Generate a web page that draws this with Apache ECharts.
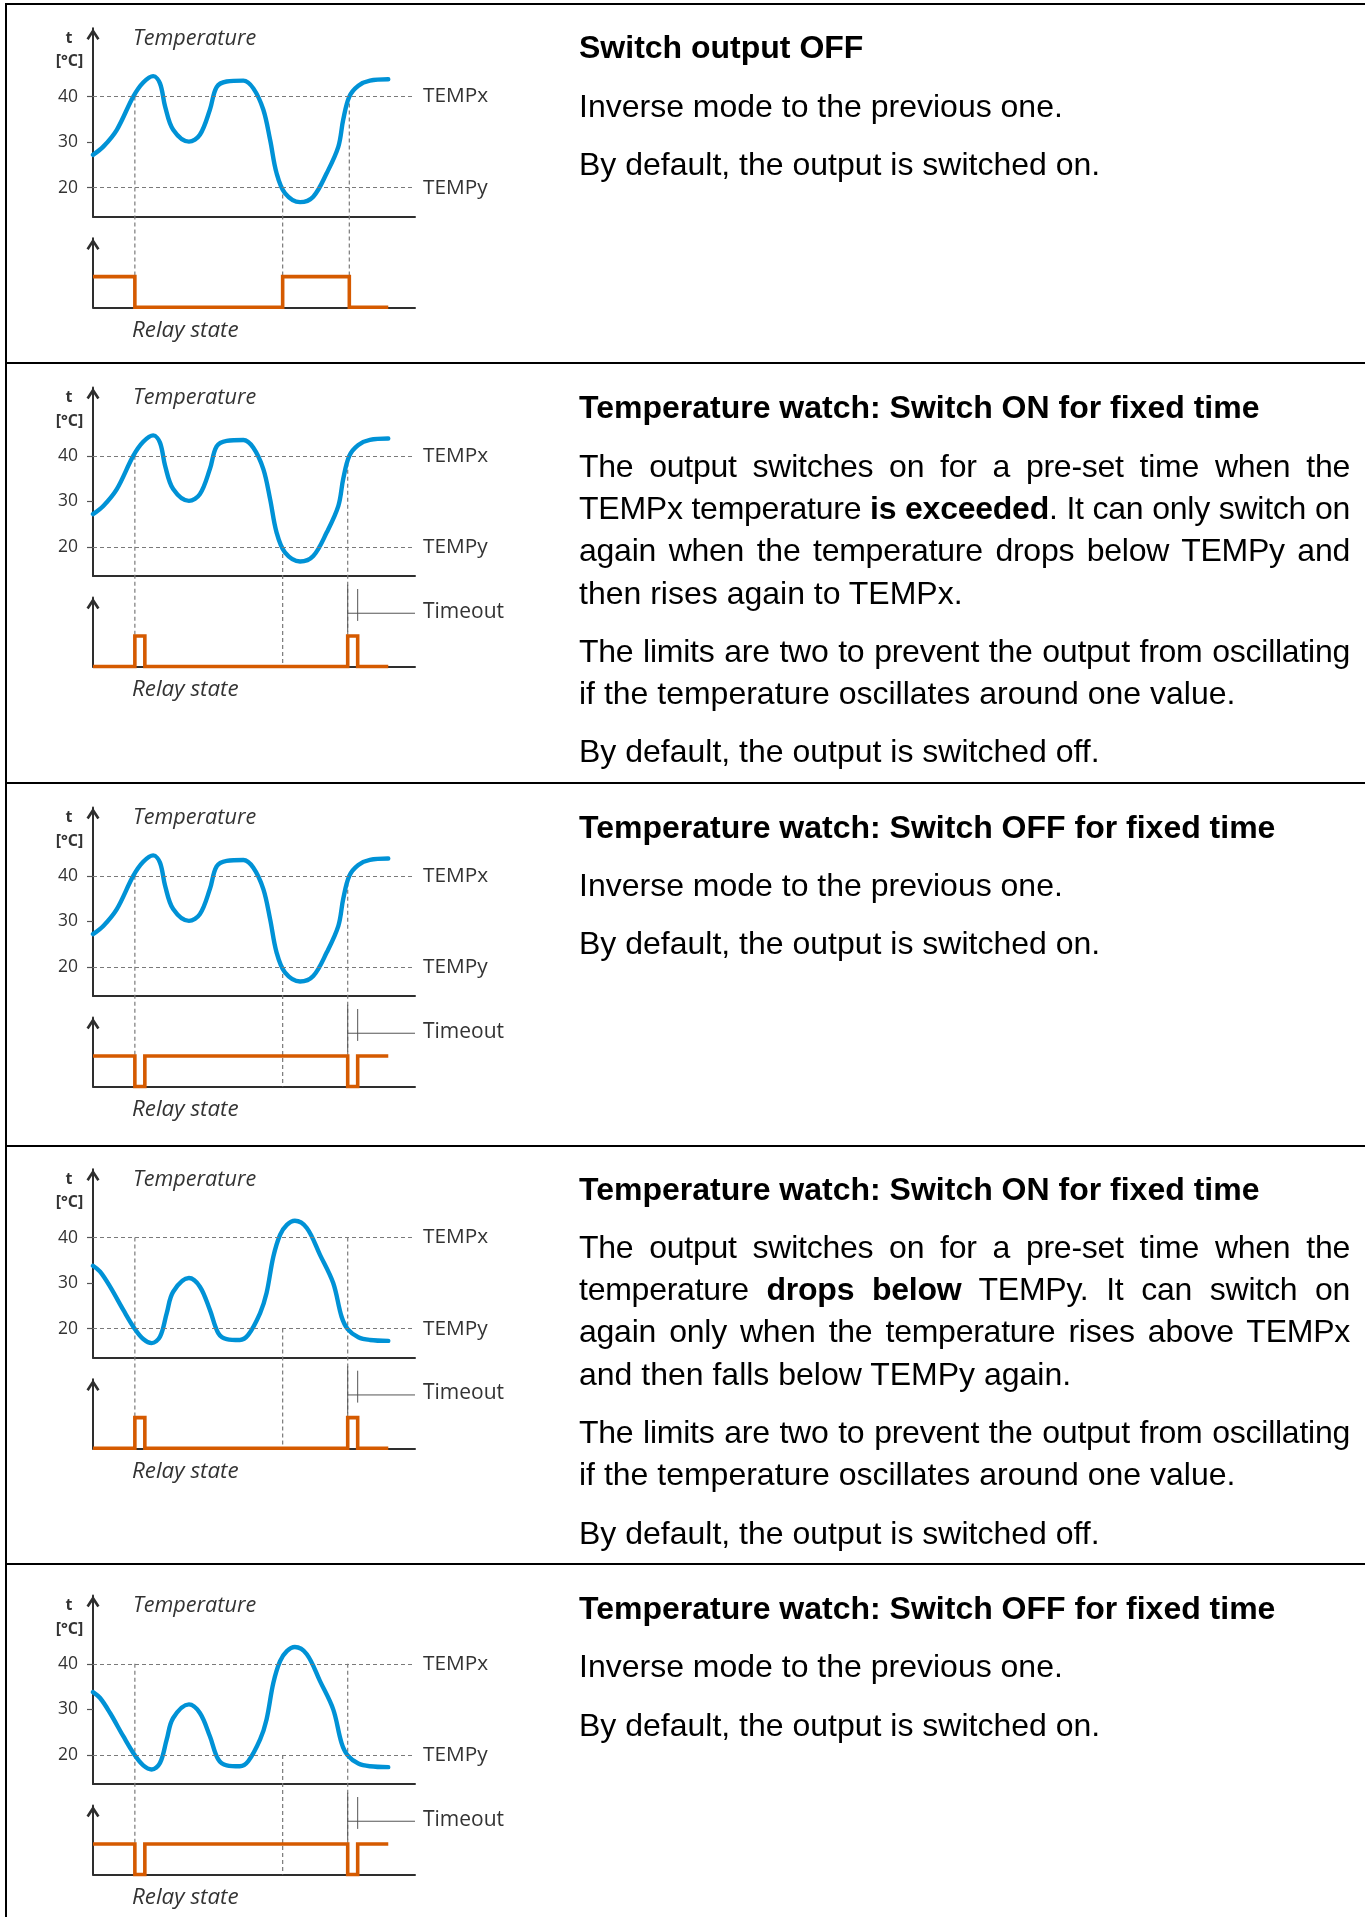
<!DOCTYPE html>
<html>
<head>
<meta charset="utf-8">
<title>Temperature watch modes</title>
<script src="https://cdn.jsdelivr.net/npm/echarts@6/dist/echarts.min.js"></script>
<style>
    html, body { margin: 0; padding: 0; background: #fff; }
    #page { position: relative; width: 1365px; height: 1917px; overflow: hidden; background: #fff; }
    #charts { position: absolute; left: 0; top: 0; width: 1365px; height: 1917px; }
    .rule { position: absolute; left: 5px; right: 0; height: 2px; background: #000; }
    .vrule { position: absolute; left: 5px; top: 3px; bottom: 0; width: 2px; background: #000; }
    .text {
        position: absolute; left: 579px; width: 771px;
        font-family: "Liberation Sans", Arial, sans-serif;
        font-size: 32px; line-height: 42.3px; color: #000;
    }
    .text h3 { margin: 0; font-size: inherit; font-weight: bold; }
    .text p { margin: 16px 0 0 0; }
    /* justified lines: squeeze letters a little, the word gaps take up the rest */
    .text .j { display: block; text-align: justify; text-align-last: justify; white-space: nowrap; letter-spacing: -0.25px; }
    .text .l { display: block; }
</style>
</head>
<body>
<div id="page">
    <div id="charts"></div>

    <div class="vrule"></div>
    <div class="rule" style="top:3px"></div>
    <div class="rule" style="top:362px"></div>
    <div class="rule" style="top:782px"></div>
    <div class="rule" style="top:1145px"></div>
    <div class="rule" style="top:1563px"></div>

    <div class="text" style="top:26.4px">
        <h3>Switch output OFF</h3>
        <p>Inverse mode to the previous one.</p>
        <p>By default, the output is switched on.</p>
    </div>

    <div class="text" style="top:386.4px">
        <h3>Temperature watch: Switch ON for fixed time</h3>
        <p>
            <span class="j">The output switches on for a pre-set time when the</span>
            <span class="j">TEMPx temperature <b>is exceeded</b>. It can only switch on</span>
            <span class="j">again when the temperature drops below TEMPy and</span>
            <span class="l">then rises again to TEMPx.</span>
        </p>
        <p>
            <span class="j">The limits are two to prevent the output from oscillating</span>
            <span class="l">if the temperature oscillates around one value.</span>
        </p>
        <p>By default, the output is switched off.</p>
    </div>

    <div class="text" style="top:805.5px">
        <h3>Temperature watch: Switch OFF for fixed time</h3>
        <p>Inverse mode to the previous one.</p>
        <p>By default, the output is switched on.</p>
    </div>

    <div class="text" style="top:1167.5px">
        <h3>Temperature watch: Switch ON for fixed time</h3>
        <p>
            <span class="j">The output switches on for a pre-set time when the</span>
            <span class="j">temperature <b>drops below</b> TEMPy. It can switch on</span>
            <span class="j">again only when the temperature rises above TEMPx</span>
            <span class="l">and then falls below TEMPy again.</span>
        </p>
        <p>
            <span class="j">The limits are two to prevent the output from oscillating</span>
            <span class="l">if the temperature oscillates around one value.</span>
        </p>
        <p>By default, the output is switched off.</p>
    </div>

    <div class="text" style="top:1587px">
        <h3>Temperature watch: Switch OFF for fixed time</h3>
        <p>Inverse mode to the previous one.</p>
        <p>By default, the output is switched on.</p>
    </div>
</div>

<script>
    // temperature curve of the first three diagrams (time in % of the axis, °C)
    const timeA = [0, 3.2, 7.4, 12.5, 15.6, 18.7, 20.8, 22.4, 24.9, 29.8, 33.2, 36.3, 38.4, 41.5, 46.7,
        49.8, 52.9, 55, 57, 59.6, 64.3, 68.4, 72.6, 76.2, 77.7, 79.6, 82.4, 86, 91.7]
    const tempA = [27.2, 29.0, 32.7, 40, 43.1, 44.5, 42.9, 37.8, 32.7, 30.1, 31.6, 37.1, 42.1, 43.3, 43.5,
        41.8, 37.1, 30.5, 23.2, 18.8, 16.8, 18, 23.2, 29, 34.9, 40, 42.4, 43.5, 43.8]

    // temperature curve of the last two diagrams
    const timeB = [0, 2.2, 5.3, 9.4, 13.0, 15.6, 18.2, 20.8, 22.9, 24.9, 29.8, 33.2, 36.3, 38.9, 41.5,
        45.6, 48.2, 51.9, 53.9, 56, 58.1, 60.2, 62.7, 66.4, 70.5, 74.6, 77.2, 79.1, 82.4, 86, 91.7]
    const tempB = [33.8, 32.5, 29.2, 24.1, 19.9, 17.7, 16.8, 18.2, 23.4, 28.1, 31.1, 29.2, 24.1, 19, 17.7,
        17.5, 18.6, 23.4, 27.8, 35.8, 40.6, 42.8, 43.7, 42.1, 36.2, 30, 22.6, 19.9, 18.1, 17.5, 17.3]

    // relay state (1 = closed)
    const relayT1 = [0, 13, 13, 58.9, 58.9, 79.6, 79.6, 91.7]
    const relayS1 = [1, 1, 0, 0, 1, 1, 0, 0]
    const pulseT = [0, 13, 13, 16.1, 16.1, 79.1, 79.1, 82.2, 82.2, 91.7]
    const pulseOn = [0, 0, 1, 1, 0, 0, 1, 1, 0, 0]
    const pulseOff = [1, 1, 0, 0, 1, 1, 0, 0, 1, 1]

    // limits and switching moments
    const tempX = 40
    const tempY = 20
    const tempTicks = [20, 30, 40]
    const switchT1 = [13, 58.9, 79.6]
    const switchT2 = [13, 58.9, 79.1]
    const switchLevel = [40, 20, 40]
    const timeoutSpan = [79.1, 82.2]

    const BLUE = '#0092d6'
    const ORANGE = '#d55a00'
    const AXIS = '#2e2e2e'
    const DASH = '#7a7a7a'
    const FONT = '"Open Sans", "DejaVu Sans", sans-serif'
    const ARROW = 'path://M6,0 L12,9.2 L10,10.6 L6,4.4 L2,10.6 L0,9.2 Z'

    const panels = [
        {top: 28.3, time: timeA, temp: tempA, relayT: relayT1, relayS: relayS1, switchT: switchT1, timeout: false},
        {top: 387.6, time: timeA, temp: tempA, relayT: pulseT, relayS: pulseOn, switchT: switchT2, timeout: true},
        {top: 807.6, time: timeA, temp: tempA, relayT: pulseT, relayS: pulseOff, switchT: switchT2, timeout: true},
        {top: 1169.3, time: timeB, temp: tempB, relayT: pulseT, relayS: pulseOn, switchT: switchT2, timeout: true},
        {top: 1595.6, time: timeB, temp: tempB, relayT: pulseT, relayS: pulseOff, switchT: switchT2, timeout: true},
    ]

    const zip = (xs, ys) => xs.map((x, k) => [x, ys[k]])

    function xAxisDef(gridIndex) {
        return {
            type: 'value', gridIndex: gridIndex, min: 0, max: 100,
            axisLine: {show: true, onZero: false, lineStyle: {color: AXIS, width: 2}},
            axisTick: {show: false}, axisLabel: {show: false}, splitLine: {show: false}
        }
    }

    function yAxisDef(gridIndex, min, max, withTicks) {
        return {
            type: 'value', gridIndex: gridIndex, min: min, max: max,
            axisLine: {
                show: true, onZero: false,
                symbol: ['none', ARROW], symbolSize: [13, 12], symbolOffset: [0, -6],
                lineStyle: {color: AXIS, width: 2}
            },
            axisTick: withTicks
                ? {show: true, customValues: tempTicks, length: 6, lineStyle: {color: '#555', width: 1.2}}
                : {show: false},
            axisLabel: withTicks
                ? {show: true, customValues: tempTicks, margin: 15, color: '#333', fontSize: 17.5, fontFamily: FONT}
                : {show: false},
            splitLine: {show: false}
        }
    }

    const option = {
        animation: false,
        grid: [], xAxis: [], yAxis: [], series: []
    }

    panels.forEach((p, i) => {
        const g = 2 * i
        option.grid.push({left: 93, top: p.top, width: 322, height: 188.4})
        option.grid.push({left: 93, top: p.top + 210, width: 322, height: 69})
        option.xAxis.push(xAxisDef(g), xAxisDef(g + 1))
        option.yAxis.push(yAxisDef(g, 13.6, 55, true), yAxisDef(g + 1, 0, 2.25, false))

        option.series.push({
            type: 'line', xAxisIndex: g, yAxisIndex: g, data: [], z: 1, silent: true,
            markLine: {
                silent: true, symbol: 'none',
                lineStyle: {color: DASH, width: 1.2, type: [4, 3]},
                label: {position: 'end', distance: 8, color: '#333', fontSize: 20.8, fontFamily: FONT},
                data: [
                    {yAxis: tempX, label: {formatter: 'TEMPx'}},
                    {yAxis: tempY, label: {formatter: 'TEMPy'}}
                ]
            }
        })
        option.series.push({
            type: 'line', xAxisIndex: g, yAxisIndex: g, z: 3,
            smooth: 0.35, showSymbol: false, silent: true,
            lineStyle: {color: BLUE, width: 4.4, cap: 'round'},
            data: zip(p.time, p.temp)
        })
        option.series.push({
            type: 'line', xAxisIndex: g + 1, yAxisIndex: g + 1, z: 3,
            showSymbol: false, silent: true,
            lineStyle: {color: ORANGE, width: 3.6, join: 'miter'},
            data: zip(p.relayT, p.relayS)
        })
    })

    const chart = echarts.init(document.getElementById('charts'))
    chart.setOption(option)

    // labels, switching guides and the timeout mark, placed through the axes
    const graphic = []
    const labelText = (x, y, text, style) => graphic.push({
        type: 'text', x: x, y: y, silent: true,
        style: Object.assign({text: text, fill: '#333', font: '21px ' + FONT, textVerticalAlign: 'middle'}, style)
    })
    const guide = (a, b, style) => graphic.push({
        type: 'line', silent: true, z: 1,
        shape: {x1: a[0], y1: a[1], x2: b[0], y2: b[1]},
        style: Object.assign({stroke: DASH, lineWidth: 1.2, lineDash: [4, 3]}, style)
    })

    panels.forEach((p, i) => {
        const g = 2 * i
        const T = p.top
        labelText(69, T + 10, 't', {font: 'bold 16px ' + FONT, textAlign: 'center'})
        labelText(69.5, T + 33.4, '[°C]', {font: 'bold 16px ' + FONT, textAlign: 'center'})
        labelText(133, T + 10.6, 'Temperature', {font: 'italic 21.6px ' + FONT})
        labelText(132, T + 302, 'Relay state', {font: 'italic 22.4px ' + FONT})

        p.switchT.forEach((t, k) => {
            const from = chart.convertToPixel({gridIndex: g}, [t, switchLevel[k]])
            const to = chart.convertToPixel({gridIndex: g + 1}, [t, 0])
            guide(from, to)
        })

        if (p.timeout) {
            const solid = {stroke: '#555', lineWidth: 1, lineDash: null}
            const px = (t, v) => chart.convertToPixel({gridIndex: g + 1}, [t, v])
            guide(px(timeoutSpan[0], 2.67), px(timeoutSpan[0], 1.14), solid)
            guide(px(timeoutSpan[1], 2.53), px(timeoutSpan[1], 1.49), solid)
            guide(px(timeoutSpan[0], 1.74), px(100, 1.74), solid)
            const lab = px(100, 1.79)
            labelText(lab[0] + 8, lab[1], 'Timeout', {})
        }
    })

    chart.setOption({graphic: graphic})
</script>
</body>
</html>
